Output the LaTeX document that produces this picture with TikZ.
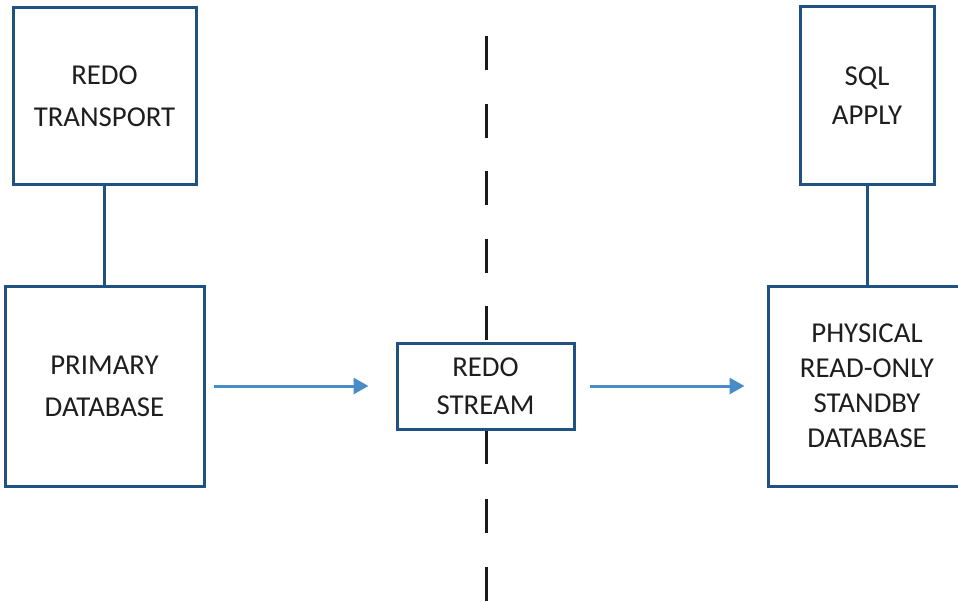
\documentclass[tikz,border=0pt]{standalone}
\usepackage{fontspec}
\setmainfont{Carlito}
\usetikzlibrary{arrows.meta}

\definecolor{boxblue}{HTML}{1F5280}
\definecolor{flowblue}{HTML}{4A8CC6}
\definecolor{ink}{HTML}{1E1E1E}
\definecolor{divider}{HTML}{1A1A1A}

\begin{document}
\begin{tikzpicture}[x=1pt,y=-1pt,
  box/.style={draw=boxblue, line width=3pt, fill=white, inner sep=0pt,
    align=center, text=ink},
  link/.style={draw=boxblue, line width=3pt},
  flow/.style={draw=flowblue, line width=3pt,
    -{Triangle[length=15pt,width=16pt]}},
  divline/.style={draw=divider, line width=3pt}
]
  \clip (0,0) rectangle (958,602);
  \fill[white] (0,0) rectangle (958,602);

  % ends of the dividing line
  \coordinate (divtop) at (486,36);
  \coordinate (divbot) at (486,604);

  % boxes
  \node[box, minimum width=183pt, minimum height=177pt,
        font=\fontsize{28.8}{42}\selectfont] (transport) at (104.5,96) {REDO\\TRANSPORT};
  \node[box, minimum width=199pt, minimum height=200pt,
        font=\fontsize{28.8}{42}\selectfont] (primary) at (104.5,386) {PRIMARY\\DATABASE};
  \node[box, minimum width=134pt, minimum height=177pt,
        font=\fontsize{28.8}{39}\selectfont] (sqlapply) at (867,95.5) {SQL\\APPLY};
  \node[box, minimum width=198pt, minimum height=200pt,
        font=\fontsize{28.8}{35}\selectfont] (standby) at (867,386)
        {PHYSICAL\\READ-ONLY\\STANDBY\\DATABASE};

  % dividing line, broken by the stream box
  \draw[divline, dash pattern=on 34pt off 33.5pt] (divtop) -- (486,343);
  \draw[divline, dash pattern=on 34pt off 34.5pt] (486,430) -- (divbot);

  \node[box, minimum width=177pt, minimum height=86pt,
        font=\fontsize{28.8}{38}\selectfont] (stream) at (485.5,386) {REDO\\STREAM};

  % vertical links
  \draw[link] (transport.south) -- (primary.north);
  \draw[link] (sqlapply.south) -- (standby.north);

  % redo flow
  \draw[flow, shorten <=8pt, shorten >=27pt] (primary.east) -- (stream.west);
  \draw[flow, shorten <=14pt, shorten >=22pt] (stream.east) -- (standby.west);
\end{tikzpicture}
\end{document}
